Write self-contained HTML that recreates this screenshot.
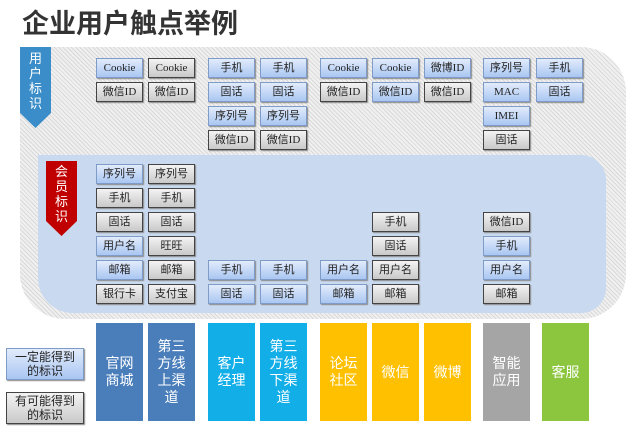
<!DOCTYPE html>
<html><head><meta charset="utf-8"><style>
body{margin:0;width:640px;height:434px;background:#fff;position:relative;overflow:hidden;font-family:"Liberation Serif","Noto Sans CJK SC",serif;}
.a{position:absolute}
.outer{left:20px;top:47px;width:606px;height:272px;border-radius:0 45px 45px 45px;background:repeating-linear-gradient(45deg,#d9d9d9 0 1px,#f0f0f0 1px 3px);}
.inner{left:38px;top:155px;width:568px;height:158px;border-radius:0 25px 25px 35px;background:#c9daf0;}
.b{position:absolute;width:45px;height:18px;border:1px solid #555;font-size:11px;line-height:18px;text-align:center;color:#222;box-shadow:1px 1px 1px #888;}
.u{background:linear-gradient(#e2ecfb,#a9c6f2);border-color:#7f9cc8;}
.g{background:linear-gradient(#f3f3f3,#c9c9c9);border-color:#444;}
.bar{position:absolute;top:323px;width:47px;height:98px;color:#fff;font-size:14px;line-height:17px;display:flex;align-items:center;justify-content:center;text-align:center;font-family:"Liberation Sans","Noto Sans CJK SC",sans-serif;}
.lg{position:absolute;left:6px;width:76px;height:30px;font-size:12px;line-height:14px;text-align:center;display:flex;align-items:center;justify-content:center;color:#222;border:1px solid #888;box-shadow:1px 1px 1px #888;}
</style></head><body>
<div class="a" style="left:22px;top:2px;font-size:27px;font-weight:bold;color:#333;font-family:'Liberation Sans','Noto Sans CJK SC',sans-serif;">企业用户触点举例</div>
<div class="a outer"></div>
<div class="a inner"></div>
<svg class="a" style="left:20px;top:47px" width="32" height="82"><polygon points="0,0 31,0 31,66 15.5,81 0,66" fill="#3a8dc8"/></svg>
<div class="a" style="left:20px;top:50px;width:31px;color:#fff;font-size:13px;line-height:15px;text-align:center;font-family:'Noto Sans CJK SC',sans-serif">用<br>户<br>标<br>识</div>
<svg class="a" style="left:46px;top:161px" width="32" height="76"><polygon points="0,0 31,0 31,60 15.5,75 0,60" fill="#c00000"/></svg>
<div class="a" style="left:46px;top:163px;width:31px;color:#fff;font-size:13px;line-height:15px;text-align:center;font-family:'Noto Sans CJK SC',sans-serif">会<br>员<br>标<br>识</div>

<div class="b u" style="left:96px;top:58px">Cookie</div><div class="b g" style="left:96px;top:82px">微信ID</div>
<div class="b g" style="left:148px;top:58px">Cookie</div><div class="b g" style="left:148px;top:82px">微信ID</div>
<div class="b u" style="left:208px;top:58px">手机</div><div class="b u" style="left:208px;top:82px">固话</div><div class="b u" style="left:208px;top:106px">序列号</div><div class="b g" style="left:208px;top:130px">微信ID</div>
<div class="b u" style="left:260px;top:58px">手机</div><div class="b u" style="left:260px;top:82px">固话</div><div class="b u" style="left:260px;top:106px">序列号</div><div class="b g" style="left:260px;top:130px">微信ID</div>
<div class="b u" style="left:320px;top:58px">Cookie</div><div class="b g" style="left:320px;top:82px">微信ID</div>
<div class="b u" style="left:372px;top:58px">Cookie</div><div class="b u" style="left:372px;top:82px">微信ID</div>
<div class="b u" style="left:424px;top:58px">微博ID</div><div class="b g" style="left:424px;top:82px">微信ID</div>
<div class="b u" style="left:483px;top:58px">序列号</div><div class="b u" style="left:483px;top:82px">MAC</div><div class="b u" style="left:483px;top:106px">IMEI</div><div class="b g" style="left:483px;top:130px">固话</div>
<div class="b u" style="left:536px;top:58px">手机</div><div class="b u" style="left:536px;top:82px">固话</div>

<div class="b u" style="left:96px;top:164px">序列号</div><div class="b g" style="left:148px;top:164px">序列号</div>
<div class="b g" style="left:96px;top:188px">手机</div><div class="b g" style="left:148px;top:188px">手机</div>
<div class="b g" style="left:96px;top:212px">固话</div><div class="b g" style="left:148px;top:212px">固话</div>
<div class="b u" style="left:96px;top:236px">用户名</div><div class="b g" style="left:148px;top:236px">旺旺</div>
<div class="b u" style="left:96px;top:260px">邮箱</div><div class="b g" style="left:148px;top:260px">邮箱</div>
<div class="b g" style="left:96px;top:284px">银行卡</div><div class="b g" style="left:148px;top:284px">支付宝</div>
<div class="b u" style="left:208px;top:260px">手机</div><div class="b u" style="left:208px;top:284px">固话</div>
<div class="b u" style="left:260px;top:260px">手机</div><div class="b u" style="left:260px;top:284px">固话</div>
<div class="b u" style="left:320px;top:260px">用户名</div><div class="b u" style="left:320px;top:284px">邮箱</div>
<div class="b g" style="left:372px;top:212px">手机</div><div class="b g" style="left:372px;top:236px">固话</div><div class="b g" style="left:372px;top:260px">用户名</div><div class="b g" style="left:372px;top:284px">邮箱</div>
<div class="b g" style="left:483px;top:212px">微信ID</div><div class="b u" style="left:483px;top:236px">手机</div><div class="b u" style="left:483px;top:260px">用户名</div><div class="b g" style="left:483px;top:284px">邮箱</div>

<div class="bar" style="left:96px;background:#4a7ebb">官网<br>商城</div>
<div class="bar" style="left:148px;background:#4a7ebb">第三<br>方线<br>上渠<br>道</div>
<div class="bar" style="left:208px;background:#12aee8">客户<br>经理</div>
<div class="bar" style="left:260px;background:#12aee8">第三<br>方线<br>下渠<br>道</div>
<div class="bar" style="left:320px;background:#ffc000">论坛<br>社区</div>
<div class="bar" style="left:372px;background:#ffc000">微信</div>
<div class="bar" style="left:424px;background:#ffc000">微博</div>
<div class="bar" style="left:483px;background:#a5a5a5">智能<br>应用</div>
<div class="bar" style="left:542px;background:#8cc63f">客服</div>

<div class="lg" style="top:348px;background:linear-gradient(#e2ecfb,#a9c6f2);border-color:#7f9cc8">一定能得到<br>的标识</div>
<div class="lg" style="top:392px;background:linear-gradient(#f3f3f3,#c9c9c9);border-color:#444">有可能得到<br>的标识</div>
</body></html>
